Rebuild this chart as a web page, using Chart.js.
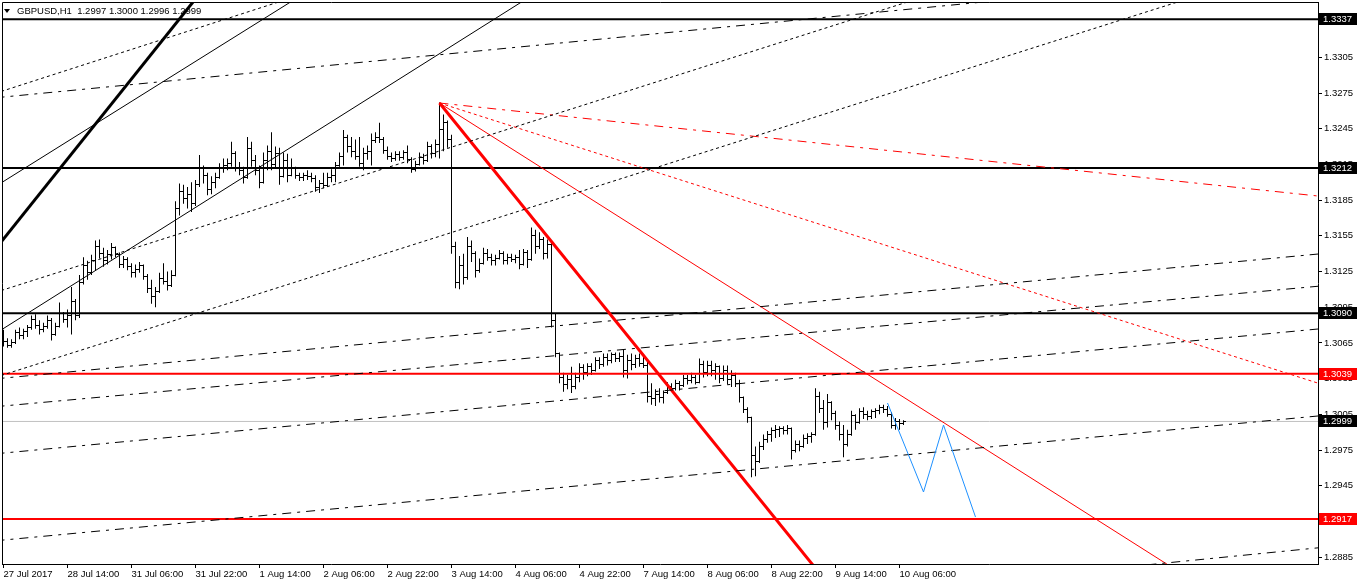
<!DOCTYPE html>
<html><head><meta charset="utf-8">
<script src="https://cdn.jsdelivr.net/npm/chart.js@4.4.1/dist/chart.umd.min.js"></script>
<style>html,body{margin:0;padding:0;background:#fff;overflow:hidden}canvas{display:block}</style>
</head><body>
<canvas id="c" width="1358" height="584"></canvas>
<script>
// ---------- DATA (GBPUSD H1, one entry per hourly bar) ----------
const openP = [
1.3070,1.3066,1.3063,1.3065,1.3074,1.3071,1.3075,1.3078,1.3085,1.3080,
1.3076,1.3079,1.3084,1.3072,1.3079,1.3090,1.3085,1.3088,1.3100,1.3088,
1.3116,1.3130,1.3124,1.3134,1.3146,1.3140,1.3134,1.3139,1.3145,1.3139,
1.3131,1.3135,1.3129,1.3124,1.3127,1.3130,1.3121,1.3111,1.3104,1.3108,
1.3119,1.3117,1.3113,1.3122,1.3178,1.3192,1.3186,1.3190,1.3182,1.3198,
1.3212,1.3206,1.3194,1.3200,1.3204,1.3212,1.3214,1.3216,1.3224,1.3212,
1.3210,1.3204,1.3228,1.3218,1.3210,1.3200,1.3218,1.3226,1.3215,1.3224,
1.3205,1.3218,1.3206,1.3212,1.3206,1.3204,1.3206,1.3205,1.3203,1.3196,
1.3199,1.3197,1.3204,1.3206,1.3214,1.3222,1.3238,1.3230,1.3226,1.3222,
1.3216,1.3224,1.3226,1.3235,1.3238,1.3236,1.3227,1.3222,1.3220,1.3223,
1.3221,1.3225,1.3219,1.3211,1.3215,1.3221,1.3218,1.3230,1.3224,1.3232,
1.3244,1.3250,1.3236,1.3146,1.3116,1.3130,1.3120,1.3146,1.3140,1.3126,
1.3132,1.3140,1.3137,1.3134,1.3136,1.3140,1.3134,1.3137,1.3135,1.3137,
1.3131,1.3141,1.3135,1.3155,1.3146,1.3152,1.3140,1.3148,1.3084,1.3056,
1.3036,1.3030,1.3034,1.3028,1.3036,1.3044,1.3040,1.3045,1.3042,1.3050,
1.3047,1.3053,1.3050,1.3055,1.3052,1.3054,1.3042,1.3050,1.3047,1.3052,
1.3048,1.3046,1.3020,1.3018,1.3022,1.3019,1.3023,1.3028,1.3027,1.3031,
1.3029,1.3035,1.3033,1.3036,1.3032,1.3047,1.3040,1.3046,1.3042,1.3045,
1.3035,1.3042,1.3034,1.3038,1.3031,1.3019,1.3009,1.3002,1.2970,1.2965,
1.2978,1.2984,1.2988,1.2991,1.2992,1.2993,1.2991,1.2993,1.2975,1.2980,
1.2978,1.2985,1.2986,1.2988,1.3020,1.3010,1.2998,1.3015,1.3006,1.2996,
1.2988,1.2980,1.2988,1.3004,1.2998,1.3007,1.3005,1.3003,1.3007,1.3008,
1.3011,1.3009,1.3005,1.2996,1.2999,1.2997];
const highP = [
1.3076,1.3069,1.3068,1.3076,1.3078,1.3077,1.3080,1.3088,1.3089,1.3084,
1.3082,1.3088,1.3086,1.3082,1.3099,1.3091,1.3093,1.3112,1.3102,1.3122,
1.3137,1.3134,1.3139,1.3151,1.3152,1.3145,1.3143,1.3149,1.3146,1.3141,
1.3138,1.3137,1.3132,1.3131,1.3133,1.3131,1.3123,1.3118,1.3112,1.3124,
1.3132,1.3125,1.3126,1.3184,1.3199,1.3198,1.3196,1.3200,1.3202,1.3223,
1.3214,1.3208,1.3205,1.3208,1.3216,1.3220,1.3220,1.3234,1.3226,1.3217,
1.3213,1.3238,1.3234,1.3223,1.3214,1.3225,1.3231,1.3242,1.3230,1.3229,
1.3225,1.3224,1.3220,1.3213,1.3208,1.3208,1.3210,1.3208,1.3206,1.3202,
1.3208,1.3208,1.3211,1.3217,1.3225,1.3244,1.3240,1.3238,1.3236,1.3238,
1.3229,1.3231,1.3241,1.3242,1.3250,1.3238,1.3230,1.3225,1.3226,1.3226,
1.3227,1.3231,1.3221,1.3218,1.3225,1.3224,1.3234,1.3232,1.3236,1.3267,
1.3257,1.3252,1.3240,1.3150,1.3138,1.3140,1.3154,1.3151,1.3142,1.3136,
1.3145,1.3144,1.3140,1.3139,1.3143,1.3142,1.3140,1.3140,1.3139,1.3143,
1.3144,1.3143,1.3162,1.3160,1.3158,1.3154,1.3152,1.3150,1.3090,1.3057,
1.3040,1.3038,1.3045,1.3040,1.3048,1.3047,1.3048,1.3048,1.3053,1.3053,
1.3056,1.3056,1.3057,1.3057,1.3057,1.3059,1.3055,1.3056,1.3055,1.3056,
1.3054,1.3050,1.3031,1.3026,1.3027,1.3025,1.3032,1.3031,1.3034,1.3033,
1.3038,1.3038,1.3040,1.3038,1.3052,1.3050,1.3050,1.3050,1.3048,1.3046,
1.3046,1.3046,1.3042,1.3040,1.3034,1.3020,1.3011,1.3003,1.2978,1.2982,
1.2988,1.2991,1.2994,1.2996,1.2995,1.2995,1.2996,1.2994,1.2983,1.2983,
1.2988,1.2989,1.2990,1.3027,1.3024,1.3017,1.3022,1.3016,1.3008,1.2999,
1.2996,1.2992,1.3008,1.3005,1.3010,1.3011,1.3008,1.3009,1.3010,1.3013,
1.3013,1.3012,1.3007,1.3002,1.3001,1.3000];
const lowP = [
1.3062,1.3061,1.3061,1.3064,1.3068,1.3068,1.3070,1.3076,1.3077,1.3072,
1.3074,1.3077,1.3067,1.3071,1.3078,1.3082,1.3078,1.3072,1.3084,1.3086,
1.3114,1.3118,1.3122,1.3126,1.3136,1.3129,1.3131,1.3135,1.3137,1.3128,
1.3128,1.3126,1.3120,1.3120,1.3124,1.3118,1.3107,1.3098,1.3095,1.3107,
1.3114,1.3109,1.3112,1.3121,1.3172,1.3182,1.3178,1.3175,1.3180,1.3196,
1.3199,1.3189,1.3190,1.3195,1.3203,1.3208,1.3210,1.3213,1.3209,1.3206,
1.3199,1.3203,1.3213,1.3206,1.3195,1.3199,1.3210,1.3210,1.3212,1.3198,
1.3204,1.3200,1.3205,1.3203,1.3201,1.3201,1.3202,1.3200,1.3192,1.3191,
1.3195,1.3196,1.3200,1.3200,1.3213,1.3214,1.3225,1.3221,1.3219,1.3213,
1.3210,1.3219,1.3214,1.3233,1.3233,1.3224,1.3219,1.3217,1.3218,1.3218,
1.3219,1.3216,1.3208,1.3209,1.3214,1.3215,1.3217,1.3220,1.3221,1.3220,
1.3226,1.3229,1.3140,1.3111,1.3110,1.3114,1.3118,1.3133,1.3120,1.3124,
1.3131,1.3134,1.3130,1.3130,1.3135,1.3131,1.3131,1.3133,1.3132,1.3127,
1.3130,1.3128,1.3134,1.3140,1.3144,1.3135,1.3136,1.3078,1.3053,1.3031,
1.3024,1.3026,1.3023,1.3026,1.3032,1.3034,1.3037,1.3038,1.3041,1.3043,
1.3045,1.3046,1.3048,1.3049,1.3049,1.3036,1.3035,1.3042,1.3044,1.3045,
1.3044,1.3015,1.3013,1.3012,1.3015,1.3014,1.3022,1.3024,1.3025,1.3025,
1.3028,1.3030,1.3031,1.3030,1.3031,1.3036,1.3037,1.3037,1.3034,1.3031,
1.3033,1.3030,1.3028,1.3028,1.3015,1.3006,1.2998,1.2952,1.2953,1.2964,
1.2975,1.2981,1.2982,1.2985,1.2986,1.2988,1.2988,1.2967,1.2973,1.2974,
1.2977,1.2980,1.2981,1.2987,1.3006,1.2992,1.2994,1.3000,1.2992,1.2983,
1.2969,1.2978,1.2987,1.2992,1.2997,1.3001,1.3000,1.3001,1.3002,1.3005,
1.3006,1.3003,1.2993,1.2992,1.2992,1.2996];
const closeP = [
1.3066,1.3063,1.3065,1.3074,1.3071,1.3075,1.3078,1.3085,1.3080,1.3076,
1.3079,1.3084,1.3072,1.3079,1.3090,1.3085,1.3088,1.3100,1.3088,1.3116,
1.3130,1.3124,1.3134,1.3146,1.3140,1.3134,1.3139,1.3145,1.3139,1.3131,
1.3135,1.3129,1.3124,1.3127,1.3130,1.3121,1.3111,1.3104,1.3108,1.3119,
1.3117,1.3113,1.3122,1.3178,1.3192,1.3186,1.3190,1.3182,1.3198,1.3212,
1.3206,1.3194,1.3200,1.3204,1.3212,1.3214,1.3216,1.3224,1.3212,1.3210,
1.3204,1.3228,1.3218,1.3210,1.3200,1.3218,1.3226,1.3215,1.3224,1.3205,
1.3218,1.3206,1.3212,1.3206,1.3204,1.3206,1.3205,1.3203,1.3196,1.3199,
1.3197,1.3204,1.3206,1.3214,1.3222,1.3238,1.3230,1.3226,1.3222,1.3216,
1.3224,1.3226,1.3235,1.3238,1.3236,1.3227,1.3222,1.3220,1.3223,1.3221,
1.3225,1.3219,1.3211,1.3215,1.3221,1.3218,1.3230,1.3224,1.3232,1.3244,
1.3250,1.3236,1.3146,1.3116,1.3130,1.3120,1.3146,1.3140,1.3126,1.3132,
1.3140,1.3137,1.3134,1.3136,1.3140,1.3134,1.3137,1.3135,1.3137,1.3131,
1.3141,1.3135,1.3155,1.3146,1.3152,1.3140,1.3148,1.3084,1.3056,1.3036,
1.3030,1.3034,1.3028,1.3036,1.3044,1.3040,1.3045,1.3042,1.3050,1.3047,
1.3053,1.3050,1.3055,1.3052,1.3054,1.3042,1.3050,1.3047,1.3052,1.3048,
1.3046,1.3020,1.3018,1.3022,1.3019,1.3023,1.3028,1.3027,1.3031,1.3029,
1.3035,1.3033,1.3036,1.3032,1.3047,1.3040,1.3046,1.3042,1.3045,1.3035,
1.3042,1.3034,1.3038,1.3031,1.3019,1.3009,1.3002,1.2970,1.2965,1.2978,
1.2984,1.2988,1.2991,1.2992,1.2993,1.2991,1.2993,1.2975,1.2980,1.2978,
1.2985,1.2986,1.2988,1.3020,1.3010,1.2998,1.3015,1.3006,1.2996,1.2988,
1.2980,1.2988,1.3004,1.2998,1.3007,1.3005,1.3003,1.3007,1.3008,1.3011,
1.3009,1.3005,1.2996,1.2999,1.2997,1.2999];

const timeTickBars   = [0,16,32,48,64,80,96,112,128,144,160,176,192,208,224];
const timeTickLabels = ['27 Jul 2017','28 Jul 14:00','31 Jul 06:00','31 Jul 22:00','1 Aug 14:00',
  '2 Aug 06:00','2 Aug 22:00','3 Aug 14:00','4 Aug 06:00','4 Aug 22:00','7 Aug 14:00',
  '8 Aug 06:00','8 Aug 22:00','9 Aug 14:00','10 Aug 06:00'];
const priceTicks = [1.2885,1.2915,1.2945,1.2975,1.3005,1.3035,1.3065,1.3095,1.3125,1.3155,
  1.3185,1.3215,1.3245,1.3275,1.3305,1.3335];
const blackLevels = [1.3337, 1.3212, 1.3090];
const redLevels = [1.3039, 1.2917];
const currentPrice = 1.2999;
const symbolTitle = 'GBPUSD,H1  1.2997 1.3000 1.2996 1.2999';

// trend lines: [barIndex, price] anchor pairs
const thickBlackLine = [[-2, 1.31439], [50, 1.33625]];
const channelLineA   = [[-2, 1.31965], [75, 1.33583]];
const channelLineB   = [[-2, 1.30729], [132, 1.33568]];
const dotLine1 = [[-2, 1.32748], [72, 1.33550]];
const dotLine2 = [[-2, 1.31075], [230, 1.33558]];
const dotLine3 = [[-2, 1.30361], [297, 1.33552]];
const dashDot1 = [[-2, 1.32710], [248, 1.33525]];
const dashDot2 = [[-2, 1.30348], [340, 1.31433]];
const dashDot3 = [[-2, 1.30114], [340, 1.31161]];
const dashDot4 = [[-2, 1.29718], [340, 1.30803]];
const dashDot5 = [[-2, 1.28987], [340, 1.30072]];
const dashDot6 = [[280, 1.28765], [340, 1.28966]];
const redThick   = [[109, 1.32666], [205, 1.28673]];
const redThin    = [[109, 1.32666], [300, 1.28596]];
const redDotted  = [[109, 1.32666], [340, 1.30190]];
const redDashDot = [[109, 1.32666], [340, 1.31844]];
const bluePath = [[221, 1.30145], [230, 1.29397], [235, 1.29960], [243, 1.29187]];

// ---------- CHART ----------
const FONT_FAMILY = "'Liberation Sans', Arial, sans-serif";
const FONT_SIZE = 9.5;

function tickImage(side) {
  const c = document.createElement('canvas');
  c.width = 5; c.height = 1;
  const g = c.getContext('2d');
  g.fillStyle = '#000';
  if (side < 0) g.fillRect(0, 0, 2, 1); else g.fillRect(3, 0, 2, 1);
  return c;
}

function seg(points, color, width, dash, order) {
  return {
    type: 'line',
    data: points.map(p => ({x: p[0], y: p[1]})),
    borderColor: color, borderWidth: width, borderDash: dash || [],
    pointRadius: 0, fill: false, tension: 0, order: order === undefined ? 1 : order
  };
}
function hline(level, color, width, order) {
  return seg([[-2, level], [340, level]], color, width, [], order);
}

const DOT = [3, 3];
const DASHDOT = [9, 6, 3, 6];

const datasets = [
  hline(currentPrice, '#C0C0C0', 1, 20),
  {
    type: 'bar',
    data: highP.map((h, i) => ({x: i, y: [lowP[i], h]})),
    backgroundColor: '#000', borderWidth: 0, barThickness: 1, inflateAmount: 0, order: 10
  },
  {
    type: 'scatter',
    data: openP.map((v, i) => ({x: i, y: v})),
    pointStyle: tickImage(-1), pointRadius: 1, hoverRadius: 1, showLine: false, order: 10
  },
  {
    type: 'scatter',
    data: closeP.map((v, i) => ({x: i, y: v})),
    pointStyle: tickImage(1), pointRadius: 1, hoverRadius: 1, showLine: false, order: 10
  },
  seg(dotLine1, '#000', 1, DOT),
  seg(dotLine2, '#000', 1, DOT),
  seg(dotLine3, '#000', 1, DOT),
  seg(dashDot1, '#000', 1, DASHDOT),
  seg(dashDot2, '#000', 1, DASHDOT),
  seg(dashDot3, '#000', 1, DASHDOT),
  seg(dashDot4, '#000', 1, DASHDOT),
  seg(dashDot5, '#000', 1, DASHDOT),
  seg(dashDot6, '#000', 1, DASHDOT),
  seg(channelLineA, '#000', 1),
  seg(channelLineB, '#000', 1),
  seg(thickBlackLine, '#000', 3),
  ...blackLevels.map(v => hline(v, '#000', 2, 2)),
  ...redLevels.map(v => hline(v, '#FF0000', 2, 2)),
  seg(redDashDot, '#FF0000', 1, DASHDOT),
  seg(redDotted, '#FF0000', 1, DOT),
  seg(redThin, '#FF0000', 1),
  seg(redThick, '#FF0000', 3),
  seg(bluePath, '#1E90FF', 1, [], 0)
];

const mt4Decor = {
  id: 'mt4Decor',
  beforeDatasetsDraw(chart) { chart.ctx.imageSmoothingEnabled = false; },
  afterDraw(chart) {
    const ctx = chart.ctx, a = chart.chartArea, y = chart.scales.y;
    ctx.save();
    ctx.strokeStyle = '#000'; ctx.lineWidth = 1;
    ctx.beginPath();
    ctx.moveTo(a.left + 0.5, a.bottom);
    ctx.lineTo(a.left + 0.5, a.top + 0.5);
    ctx.lineTo(a.right, a.top + 0.5);
    ctx.stroke();
    ctx.font = FONT_SIZE + 'px ' + FONT_FAMILY;
    ctx.textBaseline = 'middle'; ctx.textAlign = 'left';
    const boxes = blackLevels.map(v => [v, '#000'])
      .concat([[currentPrice, '#000']])
      .concat(redLevels.map(v => [v, '#FF0000']));
    boxes.forEach(([v, col]) => {
      const py = Math.round(y.getPixelForValue(v));
      ctx.fillStyle = col;
      ctx.fillRect(y.left + 1, py - 6, 38, 12);
      ctx.fillStyle = '#fff';
      ctx.fillText(v.toFixed(4), y.left + 5, py);
    });
    // title with the little triangle
    ctx.fillStyle = '#000';
    ctx.beginPath();
    ctx.moveTo(a.left + 2, a.top + 7);
    ctx.lineTo(a.left + 8, a.top + 7);
    ctx.lineTo(a.left + 5, a.top + 11);
    ctx.closePath(); ctx.fill();
    ctx.fillText(symbolTitle, a.left + 15, a.top + 9);
    ctx.restore();
  }
};

function zeroPad(s) { s.paddingLeft = 0; s.paddingRight = 0; s.paddingTop = 0; s.paddingBottom = 0; }

new Chart(document.getElementById('c'), {
  type: 'line',
  data: { datasets },
  options: {
    responsive: false, animation: false, devicePixelRatio: 1, events: [],
    layout: { autoPadding: false, padding: { left: 2, top: 2, right: 0, bottom: 0 } },
    plugins: { legend: { display: false }, tooltip: { enabled: false } },
    scales: {
      x: {
        type: 'linear', position: 'bottom', min: -0.375, max: 328.625, offset: false,
        afterBuildTicks: s => { s.ticks = timeTickBars.map(v => ({value: v})); },
        afterFit: s => { s.height = 20; zeroPad(s); },
        ticks: {
          autoSkip: false, maxRotation: 0, align: 'start', padding: 1, color: '#000',
          font: { family: FONT_FAMILY, size: FONT_SIZE },
          callback: (v, i) => timeTickLabels[i]
        },
        grid: { drawOnChartArea: false, drawTicks: true, tickLength: 4, color: '#000', offset: false },
        border: { display: true, color: '#000', width: 1 }
      },
      y: {
        type: 'linear', position: 'right', min: 1.28792, max: 1.33515,
        afterBuildTicks: s => { s.ticks = priceTicks.map(v => ({value: v})); },
        afterFit: s => { s.width = 40; zeroPad(s); },
        ticks: {
          padding: 2, color: '#000', crossAlign: 'near',
          font: { family: FONT_FAMILY, size: FONT_SIZE },
          callback: v => v.toFixed(4)
        },
        grid: { drawOnChartArea: false, drawTicks: true, tickLength: 4, color: '#000' },
        border: { display: true, color: '#000', width: 1 }
      }
    }
  },
  plugins: [mt4Decor]
});
</script>
</body></html>
